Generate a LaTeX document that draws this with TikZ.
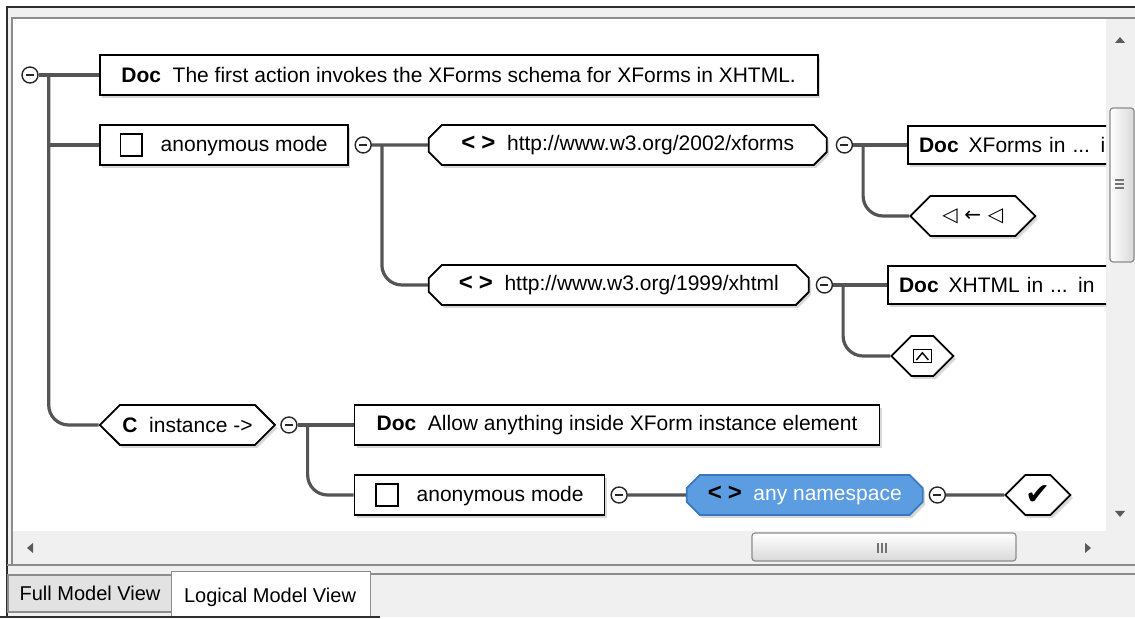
\documentclass[tikz,border=0pt]{standalone}
\usepackage{fontspec}
\setmainfont{Liberation Sans}
\newfontfamily\symfont{DejaVu Sans}
\usepackage{tikz}
\usetikzlibrary{shapes.misc, shapes.symbols, positioning, calc, shadows}
\definecolor{wiregray}{HTML}{555555}
\definecolor{panegray}{HTML}{F0F0F0}
\definecolor{framegray}{HTML}{8C8C8C}
\definecolor{framedark}{HTML}{2E2E2E}
\definecolor{tabgray}{HTML}{E2E2E2}
\definecolor{nsblue}{HTML}{5C9DE2}
\definecolor{nsedge}{HTML}{3A79C2}
\definecolor{arrowgray}{HTML}{5A5A5A}

\newcommand{\tagmark}{\textbf{\fontsize{12}{12}\selectfont<\hspace{3pt}>}}
\newcommand{\emptybox}{\raisebox{-1.5pt}{\setlength{\fboxsep}{0pt}\setlength{\fboxrule}{0.8pt}\fbox{\rule{0pt}{10pt}\hspace{10pt}}}}

\tikzstyle{docbox} = [rectangle, draw=black, fill=white, line width=0.9pt, minimum height=20pt,
  inner xsep=7pt, font=\fontsize{10.5}{12}\selectfont,
  drop shadow={shadow xshift=1.2pt, shadow yshift=-1.5pt, opacity=0.3}]
\tikzstyle{nsbox} = [docbox, chamfered rectangle, chamfered rectangle xsep=3pt, inner ysep=1.5pt]
\tikzstyle{hexbox} = [docbox, signal, signal to=west and east, signal pointer angle=90, inner xsep=0pt]
\tikzstyle{fold} = [circle, draw=black!85, fill=white, line width=0.7pt, minimum size=8pt, inner sep=0pt,
  path picture={\draw[line width=0.8pt] ([xshift=-2pt]path picture bounding box.center)
    -- ([xshift=2pt]path picture bounding box.center);}]
\tikzstyle{caret} = [path picture={
    \draw[line width=0.8pt] ([shift={(-4.5pt,-3.2pt)}]path picture bounding box.center)
      rectangle ([shift={(4.5pt,3.2pt)}]path picture bounding box.center);
    \draw[line width=0.7pt] ([shift={(-3pt,-2pt)}]path picture bounding box.center)
      -- ([shift={(0pt,1.6pt)}]path picture bounding box.center)
      -- ([shift={(3pt,-2pt)}]path picture bounding box.center);}]
\tikzstyle{wire} = [draw=wiregray, line width=1.6pt]
\tikzstyle{tabbox} = [rectangle, draw=framegray, line width=0.6pt, font=\fontsize{10}{12}\selectfont]

\begin{document}
\begin{tikzpicture}[x=0.5pt, y=-0.5pt, node distance=30pt]
  \useasboundingbox (0,0) rectangle (1135,619);

  % window frame
  \fill[white] (0,0) rectangle (1135,619);
  \fill[panegray] (7,7) rectangle (1135,617);
  \fill[white] (13,19) rectangle (1106,531);
  \draw[framedark, line width=1pt] (7,617) -- (7,7) -- (1135,7);
  \draw[framegray, line width=1pt] (12,564) -- (12,18) -- (1135,18);
  \draw[framegray, line width=0.8pt] (7,565) -- (1135,565);
  \draw[framegray, line width=0.8pt] (370,574) -- (1135,574);

  % scroll bars
  \fill[arrowgray] (1115,43) -- (1125,43) -- (1120,37) -- cycle;
  \fill[arrowgray] (1115,511) -- (1125,511) -- (1120,517) -- cycle;
  \draw[framegray, line width=0.6pt, rounded corners=1.5pt, left color=white, right color=black!15]
    (1110,108) rectangle (1134,262);
  \foreach \gy in {180,184,188}
    \draw[black!55, line width=0.6pt] (1115,\gy) -- (1124,\gy);
  \fill[arrowgray] (33,543) -- (33,553) -- (27,548) -- cycle;
  \fill[arrowgray] (1085,543) -- (1085,553) -- (1091,548) -- cycle;
  \draw[framegray, line width=0.6pt, rounded corners=1.5pt, top color=white, bottom color=black!15]
    (752,533) rectangle (1016,561);
  \foreach \gx in {878,882,886}
    \draw[black!55, line width=0.6pt] (\gx,543) -- (\gx,553);

  % tabs
  \node (fulltab) [tabbox, fill=tabgray, minimum width=82pt, minimum height=18.5pt] at (90,593.5) {Full Model View};
  \node (logtab) [tabbox, draw=none, fill=white, minimum width=99pt, minimum height=22pt] at (271,594) {};
  \draw[framegray, line width=0.6pt] (logtab.south west) |- (logtab.north east) -- (logtab.south east);
  \node (logtext) [font=\fontsize{10}{12}\selectfont] at (270,597) {Logical Model View};
  \draw[framedark, line width=1pt] (0,617) -- (380,617);

  \begin{scope}
    \clip (13,19) rectangle (1106,531);

    % root
    \node (c0) [fold] at (30,75) {};
    \node (doc1) [docbox, right=of c0, minimum width=359pt]
      {\textbf{Doc}\ \ The first action invokes the XForms schema for XForms in XHTML.};
    \node (anon1) [docbox, anchor=west, minimum width=124pt] at ($(doc1.west)+(0,-35pt)$)
      {\emptybox\hspace{9pt}anonymous mode};

    % namespaces
    \node (c1) [fold, right=3pt of anon1] {};
    \node (url1) [nsbox, right=28pt of c1, minimum width=199pt] {\tagmark\ \ http://www.w3.org/2002/xforms};
    \node (c2) [fold, right=4pt of url1] {};
    \node (docx) [docbox, right=27pt of c2, text width=110pt, align=left, minimum height=19pt, inner xsep=5.5pt]
      {\textbf{Doc}\hspace{5pt}XForms in ... i};
    \node (hx1) [hexbox, anchor=west, minimum width=62.5pt] at ($(docx.west)+(1pt,-35.5pt)$)
      {{\symfont\fontsize{10}{10}\selectfont ◁\,\,←\,\,◁}};
    \node (url2) [nsbox, anchor=west, minimum width=190pt] at ($(url1.west)+(0,-70pt)$)
      {\tagmark\ \ http://www.w3.org/1999/xhtml};
    \node (c3) [fold, right=3pt of url2] {};
    \node (docy) [docbox, right=27pt of c3, text width=110pt, align=left, minimum height=19pt, inner xsep=5.5pt]
      {\textbf{Doc}\hspace{5pt}XHTML in ... in};
    \node (hx2) [hexbox, caret, anchor=west, minimum width=31pt] at ($(docy.west)+(1.5pt,-35.5pt)$) {};

    % instance
    \node (inst) [hexbox, anchor=west, minimum width=87.5pt] at ($(anon1.west)+(0,-140pt)$)
      {\textbf{C}\ \ instance ->};
    \node (c4) [fold, right=2pt of inst] {};
    \node (doc2) [docbox, right=28pt of c4, minimum width=262.5pt]
      {\textbf{Doc}\ \ Allow anything inside XForm instance element};
    \node (anon2) [docbox, anchor=west, minimum width=125pt] at ($(doc2.west)+(0,-35pt)$)
      {\emptybox\hspace{9pt}anonymous mode};
    \node (c5) [fold, right=2.5pt of anon2] {};
    \node (anyns) [nsbox, right=29pt of c5, minimum width=118pt, fill=nsblue, draw=nsedge]
      {\tagmark\ \ \textcolor{white}{any namespace}};
    \node (c6) [fold, right=2.5pt of anyns] {};
    \node (hx3) [hexbox, right=29pt of c6, minimum width=31.5pt] {{\symfont\fontsize{15}{15}\selectfont ✔}};

    % connectors
    \coordinate (t0) at ($(c0.east)+(5pt,0)$);
    \coordinate (t1) at ($(c1.east)+(5pt,0)$);
    \coordinate (t2) at ($(c2.east)+(5pt,0)$);
    \coordinate (t3) at ($(c3.east)+(5pt,0)$);
    \coordinate (t4) at ($(c4.east)+(5pt,0)$);
    \draw[wire] (c0) -- (doc1);
    \draw[wire] (t0) |- (anon1.west);
    \draw[wire, rounded corners=10pt] (t0) |- (inst.west);
    \draw[wire] (c1) -- (url1);
    \draw[wire, rounded corners=10pt] (t1) |- (url2.west);
    \draw[wire] (c2) -- (docx);
    \draw[wire, rounded corners=10pt] (t2) |- (hx1.west);
    \draw[wire] (c3) -- (docy);
    \draw[wire, rounded corners=10pt] (t3) |- (hx2.west);
    \draw[wire] (c4) -- (doc2);
    \draw[wire, rounded corners=10pt] (t4) |- (anon2.west);
    \draw[wire] (c5) -- (anyns);
    \draw[wire] (c6) -- (hx3);
  \end{scope}
\end{tikzpicture}
\end{document}
